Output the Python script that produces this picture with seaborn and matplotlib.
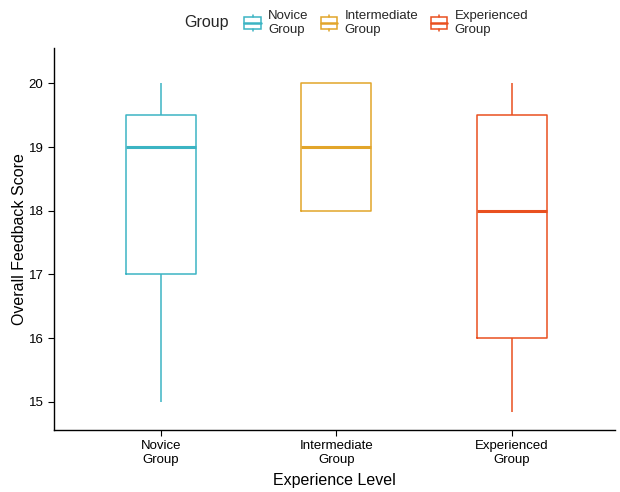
import numpy as np
import pandas as pd
import matplotlib
matplotlib.use("Agg")
import matplotlib.pyplot as plt
from matplotlib.patches import Rectangle
from matplotlib.lines import Line2D
from matplotlib.legend_handler import HandlerBase
from matplotlib.offsetbox import HPacker
import seaborn as sns

# Overall feedback scores per participant, by experience level
levels = ["Novice\nGroup", "Intermediate\nGroup", "Experienced\nGroup"]
novice_scores = [15, 17, 17, 19, 19, 20, 20]
intermediate_scores = [18, 18, 19, 20, 20]
experienced_scores = [14.85, 16, 16, 18, 19, 20, 20]
group_colors = ["#3CB4C3", "#E2A52A", "#E9501F"]

df = pd.DataFrame({
    "level": [levels[0]] * len(novice_scores)
    + [levels[1]] * len(intermediate_scores)
    + [levels[2]] * len(experienced_scores),
    "score": novice_scores + intermediate_scores + experienced_scores,
})

sns.set_theme(style="ticks")
plt.rcParams["font.family"] = ["Liberation Sans", "DejaVu Sans"]

fig = plt.figure(figsize=(6.2, 4.92), dpi=100)
ax = fig.add_axes([0.087, 0.126, 0.905, 0.776])

sns.boxplot(
    data=df, x="level", y="score", hue="level", order=levels, hue_order=levels,
    palette=group_colors, saturation=1, fill=False, width=0.4, linewidth=1.1,
    showcaps=False, showfliers=False, legend=False, whis=1.5,
    medianprops={"linewidth": 2.2}, ax=ax,
)

ax.set_xlim(-0.61, 2.59)
ax.set_ylim(14.56, 20.55)
ax.set_yticks([15, 16, 17, 18, 19, 20])
ax.set_xlabel("Experience Level", fontsize=11.5, color="black", labelpad=5)
ax.set_ylabel("Overall Feedback Score", fontsize=11.5, color="black", labelpad=1)
ax.tick_params(axis="both", labelsize=9.5, colors="black", length=4, width=0.8)
for s in ["top", "right"]:
    ax.spines[s].set_visible(False)
for s in ["left", "bottom"]:
    ax.spines[s].set_linewidth(1.0)
    ax.spines[s].set_color("black")


class BoxKey(HandlerBase):
    """Legend key drawn as a small box with median and whisker stubs."""

    def create_artists(self, legend, orig_handle, xdescent, ydescent,
                       width, height, fontsize, trans):
        c = orig_handle.get_color()
        cx = width / 2 - xdescent
        bw = width * 0.85
        y0 = -ydescent + height * 0.0
        y1 = -ydescent + height * 1.0
        b0 = -ydescent + height * 0.15
        b1 = -ydescent + height * 0.85
        mid = -ydescent + height * 0.5
        return [
            Rectangle((cx - bw / 2, b0), bw, b1 - b0, fill=False,
                      edgecolor=c, linewidth=1.1, transform=trans),
            Line2D([cx - bw / 2, cx + bw / 2], [mid, mid], color=c,
                   linewidth=1.8, transform=trans),
            Line2D([cx, cx], [y0, b0], color=c, linewidth=1.1, transform=trans),
            Line2D([cx, cx], [b1, y1], color=c, linewidth=1.1, transform=trans),
        ]


handles = [Line2D([], [], color=c) for c in group_colors]
leg = fig.legend(
    handles, levels, title="Group", loc="upper center",
    bbox_to_anchor=(0.575, 1.004), ncol=3, frameon=False,
    handler_map={Line2D: BoxKey()}, fontsize=9.5, title_fontsize=11.5,
    handlelength=1.45, handleheight=1.6, handletextpad=0.45, columnspacing=0.85,
    labelspacing=0.2,
)
# title sits to the left of the entries
title_box = leg._legend_title_box
entries = leg._legend_handle_box
leg._legend_box._children = [HPacker(pad=0, sep=10, align="center",
                                     children=[title_box, entries])]

fig.savefig("out.png", dpi=100)
